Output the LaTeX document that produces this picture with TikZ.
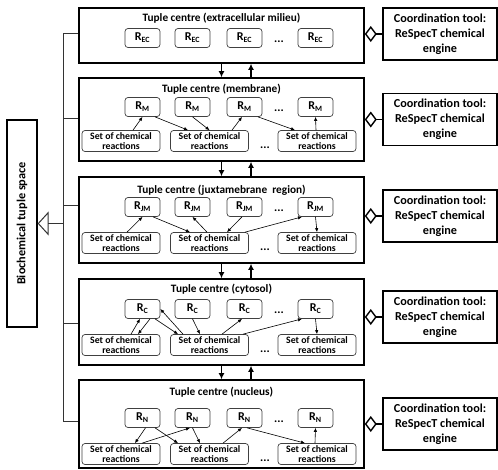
\documentclass[tikz,border=0pt]{standalone}
\usepackage{fontspec}
\setmainfont{Carlito}
\usetikzlibrary{arrows.meta}
\begin{document}
\begin{tikzpicture}[x=1pt,y=-1pt,
  tuple/.style={draw, line width=1.6pt, minimum width=285pt, inner sep=0pt},
  coordbox/.style={draw, line width=1.6pt, minimum width=114pt, minimum height=52pt, inner sep=0pt,
    align=center, font=\bfseries\fontsize{12.2}{15}\selectfont},
  ttl/.style={font=\bfseries\fontsize{11.3}{12}\selectfont, inner sep=0pt},
  rnode/.style={draw=black!75, line width=0.7pt, rounded corners=3pt, minimum width=35pt,
    minimum height=19pt, inner sep=0pt, font=\bfseries\fontsize{12}{12}\selectfont},
  setn/.style={draw=black!75, line width=0.7pt, rounded corners=3pt, minimum width=78pt,
    minimum height=21pt, inner sep=0pt, align=center, font=\bfseries\fontsize{9.8}{9.4}\selectfont},
  dotsn/.style={font=\bfseries\fontsize{12}{12}\selectfont, inner sep=0pt},
  inarr/.style={line width=0.6pt, -{Latex[length=4pt,width=3.5pt]}},
  bigarr/.style={line width=1.2pt, -{Latex[length=6pt,width=6pt]}},
  agg/.style={line width=1.4pt, -{Diamond[open,length=12pt,width=16pt]}},
  bus/.style={line width=1pt, draw=black!80}
]
\useasboundingbox (0,0) rectangle (498,469);

% tuple centres
\node[tuple, minimum height=55pt] (t1) at (221.5,35.5) {};
\node[tuple, minimum height=83pt] (t2) at (221.5,119.5) {};
\node[tuple, minimum height=86pt] (t3) at (221.5,220) {};
\node[tuple, minimum height=86pt] (t4) at (221.5,322) {};
\node[tuple, minimum height=88pt] (t5) at (221.5,424) {};

\node[ttl] (h1) at (221.5,18) {Tuple centre (extracellular milieu)};
\node[ttl] (h2) at (221.5,89) {Tuple centre (membrane)};
\node[ttl] (h3) at (221.5,190) {Tuple centre (juxtamebrane\ \ region)};
\node[ttl] (h4) at (221.5,289) {Tuple centre (cytosol)};
\node[ttl] (h5) at (221.5,392) {Tuple centre (nucleus)};

% R nodes
\foreach \x [count=\k] in {142.5,192.5,244.5,315.5}
  \node[rnode] (r1-\k) at (\x,38) {R\textsubscript{EC}};
\foreach \b/\ry/\sy/\sub in {2/107/141/M, 3/207/243/JM, 4/309/345/C, 5/418/454/N} {
  \foreach \x [count=\k] in {142.5,192.5,244.5,315.5}
    \node[rnode] (r\b-\k) at (\x,\ry) {R\textsubscript{\sub}};
  \foreach \x [count=\k] in {121,209.5,317}
    \node[setn] (s\b-\k) at (\x,\sy) {Set of chemical\\reactions};
  \node[dotsn] (dr\b) at (279,\ry+4) {...};
  \node[dotsn] (ds\b) at (265,\sy+7) {...};
}
\node[dotsn] (dr1) at (279,42) {...};

% box 2 arrows
\draw[inarr] ([xshift=12pt]s2-1.north) -- (r2-1.south);
\draw[inarr] ([xshift=12.5pt]r2-1.south) -- ([xshift=-21.5pt]s2-2.north);
\draw[inarr] (r2-2.south) -- (s2-2.north);
\draw[inarr] ([xshift=22.5pt]s2-2.north) -- ([xshift=-2.5pt]r2-3.south);
\draw[inarr] ([xshift=13.5pt]r2-3.south) -- ([xshift=-22pt]s2-3.north);
\draw[inarr] ([xshift=-1pt]s2-3.north) -- (r2-4.south);

% box 3 arrows
\draw[inarr] ([xshift=6pt]s3-1.north) -- (r3-1.south);
\draw[inarr] ([xshift=10.5pt]r3-1.south) -- ([xshift=-19.5pt]s3-2.north);
\draw[inarr] ([xshift=-2.5pt]s3-2.north) -- (r3-2.south);
\draw[inarr] ([xshift=-2.5pt]r3-3.south) -- ([xshift=17.5pt]s3-2.north);
\draw[inarr] ([xshift=35.5pt]s3-2.north) -- ([xshift=-13.5pt]r3-4.south);
\draw[inarr] (r3-4.south) -- (s3-3.north);

% box 4 arrows
\draw[inarr] ([xshift=10pt]s4-1.north) -- ([xshift=-2.5pt]r4-1.south);
\draw[inarr] ([xshift=7.5pt]r4-1.south) -- ([xshift=17pt]s4-1.north);
\draw[inarr] ([xshift=12.5pt]r4-1.south) -- ([xshift=-31.5pt]s4-2.north);
\draw[inarr] ([xshift=-26.5pt]s4-2.north) -- (r4-1.east);
\draw[inarr] (r4-2.south) -- ([xshift=-9.5pt]s4-2.north);
\draw[inarr] ([xshift=12.5pt]s4-2.north) -- ([xshift=-2.5pt]r4-3.south);
\draw[inarr] ([xshift=33.5pt]s4-2.north) -- ([xshift=-13.5pt]r4-4.south);
\draw[inarr] (r4-4.south) -- (s4-3.north);

% box 5 arrows
\draw[inarr] ([xshift=3pt]r5-1.south) -- ([xshift=14pt]s5-1.north);
\draw[inarr] ([xshift=21pt]s5-1.north) -- ([xshift=-2.5pt]r5-2.south);
\draw[inarr] ([xshift=12.5pt]r5-1.south) -- ([xshift=-31.5pt]s5-2.north);
\draw[inarr] (r5-2.south) -- ([xshift=-9.5pt]s5-2.north);
\draw[inarr] ([xshift=13.5pt]s5-2.north) -- ([xshift=-2.5pt]r5-3.south);
\draw[inarr] ([xshift=2.5pt]r5-3.south) -- ([xshift=-12pt]s5-3.north);
\draw[inarr] ([xshift=-2pt]s5-3.north) -- (r5-4.south);

% arrows between tuple centres
\foreach \a/\b in {t1/t2, t2/t3, t3/t4, t4/t5} {
  \draw[bigarr] (\a.south) -- (\b.north);
  \draw[bigarr] ([xshift=29.5pt]\b.north) -- ([xshift=29.5pt]\a.south);
}

% coordination tools
\foreach \k/\y in {1/34, 2/119.5, 3/216, 4/317, 5/424} {
  \node[coordbox] (c\k) at (440,\y) {Coordination tool:\\ReSpecT chemical\\engine};
  \draw[agg] (c\k.west) -- (c\k.west -| t\k.east);
}

% biochemical tuple space
\node[draw, line width=1.3pt, minimum width=30pt, minimum height=207pt, inner sep=0pt] (space) at (22,223.5) {};
\node[rotate=90, font=\bfseries\fontsize{12.3}{12}\selectfont] (spacetxt) at (space.center) {Biochemical tuple space};

\coordinate (bustop) at (63,33);
\coordinate (b2) at (63,118);
\coordinate (b3) at (63,205);
\coordinate (bmid) at (63,223.5);
\coordinate (b4) at (63,323);
\coordinate (busbot) at (63,421);
\draw[bus] (bustop -| t1.west) -- (bustop) -- (busbot) -- (busbot -| t5.west);
\draw[bus] (b2) -- (b2 -| t2.west);
\draw[bus] (b3) -- (b3 -| t3.west);
\draw[bus] (b4) -- (b4 -| t4.west);
\draw[bus, -{Triangle[open,length=11pt,width=24pt]}] (bmid) -- (space.east);
\end{tikzpicture}
\end{document}
